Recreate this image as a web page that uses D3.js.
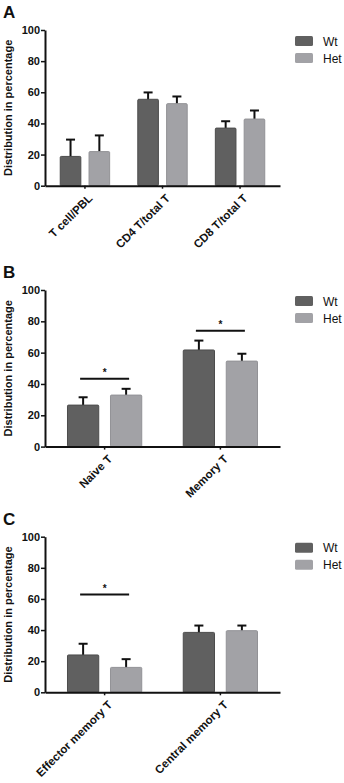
<!DOCTYPE html>
<html lang="en">
<head>
<meta charset="UTF-8">
<title>T cell distribution</title>
<script src="https://d3js.org/d3.v7.min.js"></script>
<style>
    body { margin: 0; background: #fff; }
    svg text { font-family: "Liberation Sans", Arial, sans-serif; }
    .axis text { font-size: 11px; font-weight: bold; fill: #111; }
    .axis.x text { font-size: 11.5px; }
    .axis path, .axis line { stroke: #111; }
    .axis path { stroke-width: 2; }
    .axis line { stroke-width: 1.5; }
</style>
</head>
<body>
<div id="chart"></div>
<script>
    // data (percent, mean and upper error)
    const groups = ["Wt", "Het"];
    const yTicks = [0, 20, 40, 60, 80, 100];

    const catsA = ["T cell/PBL", "CD4 T/total T", "CD8 T/total T"];
    const wtA = [18.8, 55.5, 37.0];
    const wtErrA = [10.8, 4.4, 4.4];
    const hetA = [21.9, 52.7, 42.8];
    const hetErrA = [10.4, 4.6, 5.5];
    const sigA = [null, null, null];

    const catsB = ["Naive T", "Memory T"];
    const wtB = [26.5, 61.7];
    const wtErrB = [5.0, 6.0];
    const hetB = [32.9, 54.6];
    const hetErrB = [4.0, 4.7];
    const sigB = [43.4, 74.0];

    const catsC = ["Effector memory T", "Central memory T"];
    const wtC = [24.0, 38.5];
    const wtErrC = [7.2, 4.4];
    const hetC = [16.0, 39.6];
    const hetErrC = [5.3, 3.3];
    const sigC = [62.8, null];

    const colors = { Wt: "#606060", Het: "#a2a2a6" };
    const strokes = { Wt: "#4c4c4c", Het: "#929296" };

    const W = 344, H = 783;
    const svg = d3.select("#chart").append("svg")
        .attr("width", W)
        .attr("height", H);

    const panels = [
        { letter: "A", top: 30, bottom: 185.7, cats: catsA, wt: wtA, wtErr: wtErrA, het: hetA, hetErr: hetErrA, sig: sigA },
        { letter: "B", top: 290, bottom: 446.6, cats: catsB, wt: wtB, wtErr: wtErrB, het: hetB, hetErr: hetErrB, sig: sigB },
        { letter: "C", top: 536.7, bottom: 692.3, cats: catsC, wt: wtC, wtErr: wtErrC, het: hetC, hetErr: hetErrC, sig: sigC }
    ];

    const xLeft = 45, xRight = 280;

    panels.forEach(p => {
        const g = svg.append("g");

        const y = d3.scaleLinear().domain([0, 100]).range([p.bottom, p.top]);
        const x0 = d3.scaleBand().domain(p.cats).range([xLeft, xRight])
            .paddingInner(0.35).paddingOuter(0.19);
        const x1 = d3.scaleBand().domain(groups).range([0, x0.bandwidth()])
            .paddingInner(0.25).paddingOuter(0);

        const data = p.cats.map((c, i) => ({
            cat: c,
            sig: p.sig[i],
            vals: [
                { key: "Wt", v: p.wt[i], e: p.wtErr[i] },
                { key: "Het", v: p.het[i], e: p.hetErr[i] }
            ]
        }));

        // panel letter
        g.append("text")
            .attr("x", 3)
            .attr("y", p.top - 12)
            .style("font-size", "17px")
            .style("font-weight", "bold")
            .attr("fill", "#111")
            .text(p.letter);

        // y title
        g.append("text")
            .attr("transform", `translate(11.5,${(p.top + p.bottom) / 2}) rotate(-90)`)
            .attr("text-anchor", "middle")
            .style("font-size", "11px")
            .style("font-weight", "bold")
            .attr("fill", "#111")
            .text("Distribution in percentage");

        const cg = g.selectAll("g.cat")
            .data(data)
            .join("g")
            .attr("class", "cat")
            .attr("transform", d => `translate(${x0(d.cat)},0)`);

        // error bars (upper only), drawn under the bars
        cg.each(function(d) {
            const sel = d3.select(this);
            d.vals.forEach(b => {
                const cx = x1(b.key) + x1.bandwidth() / 2;
                sel.append("line")
                    .attr("x1", cx).attr("x2", cx)
                    .attr("y1", y(b.v) + 2).attr("y2", y(b.v + b.e))
                    .attr("stroke", "#111").attr("stroke-width", 2);
                sel.append("line")
                    .attr("x1", cx - 4.5).attr("x2", cx + 4.5)
                    .attr("y1", y(b.v + b.e)).attr("y2", y(b.v + b.e))
                    .attr("stroke", "#111").attr("stroke-width", 2);
            });
        });

        cg.selectAll("rect")
            .data(d => d.vals)
            .join("rect")
            .attr("x", d => x1(d.key) + 0.5)
            .attr("y", d => y(d.v))
            .attr("width", x1.bandwidth() - 1)
            .attr("height", d => y(0) - y(d.v))
            .attr("rx", 1)
            .attr("fill", d => colors[d.key])
            .attr("stroke", d => strokes[d.key])
            .attr("stroke-width", 1);

        // significance lines
        cg.filter(d => d.sig != null).each(function(d) {
            const sel = d3.select(this);
            const xa = x1("Wt") + x1.bandwidth() / 2 - 3;
            const xb = x1("Het") + x1.bandwidth() / 2 + 3;
            sel.append("line")
                .attr("x1", xa).attr("x2", xb)
                .attr("y1", y(d.sig)).attr("y2", y(d.sig))
                .attr("stroke", "#111").attr("stroke-width", 2);
            sel.append("text")
                .attr("x", (xa + xb) / 2)
                .attr("y", y(d.sig) - 3)
                .attr("text-anchor", "middle")
                .style("font-size", "10px")
                .style("font-weight", "bold")
                .attr("fill", "#111")
                .text("*");
        });

        // axes
        g.append("g")
            .attr("class", "axis")
            .attr("transform", `translate(${xLeft},0)`)
            .call(d3.axisLeft(y).tickValues(yTicks).tickSize(4).tickSizeOuter(0).tickPadding(1));

        const xa = g.append("g")
            .attr("class", "axis x")
            .attr("transform", `translate(0,${p.bottom})`)
            .call(d3.axisBottom(x0).tickSize(3).tickSizeOuter(0));
        xa.selectAll(".tick text")
            .attr("text-anchor", "end")
            .attr("dx", "0")
            .attr("dy", "0")
            .attr("transform", "translate(4,9) rotate(-45)");

        // legend
        const lg = g.append("g").attr("transform", `translate(295,${p.top + 6})`);
        groups.forEach((k, i) => {
            lg.append("rect")
                .attr("x", 0).attr("y", i * 17)
                .attr("width", 18).attr("height", 10)
                .attr("rx", 1.5)
                .attr("fill", colors[k]);
            lg.append("text")
                .attr("x", 28).attr("y", i * 17 + 9.5)
                .style("font-size", "12px")
                .attr("fill", "#111")
                .text(k);
        });
    });
</script>
</body>
</html>
